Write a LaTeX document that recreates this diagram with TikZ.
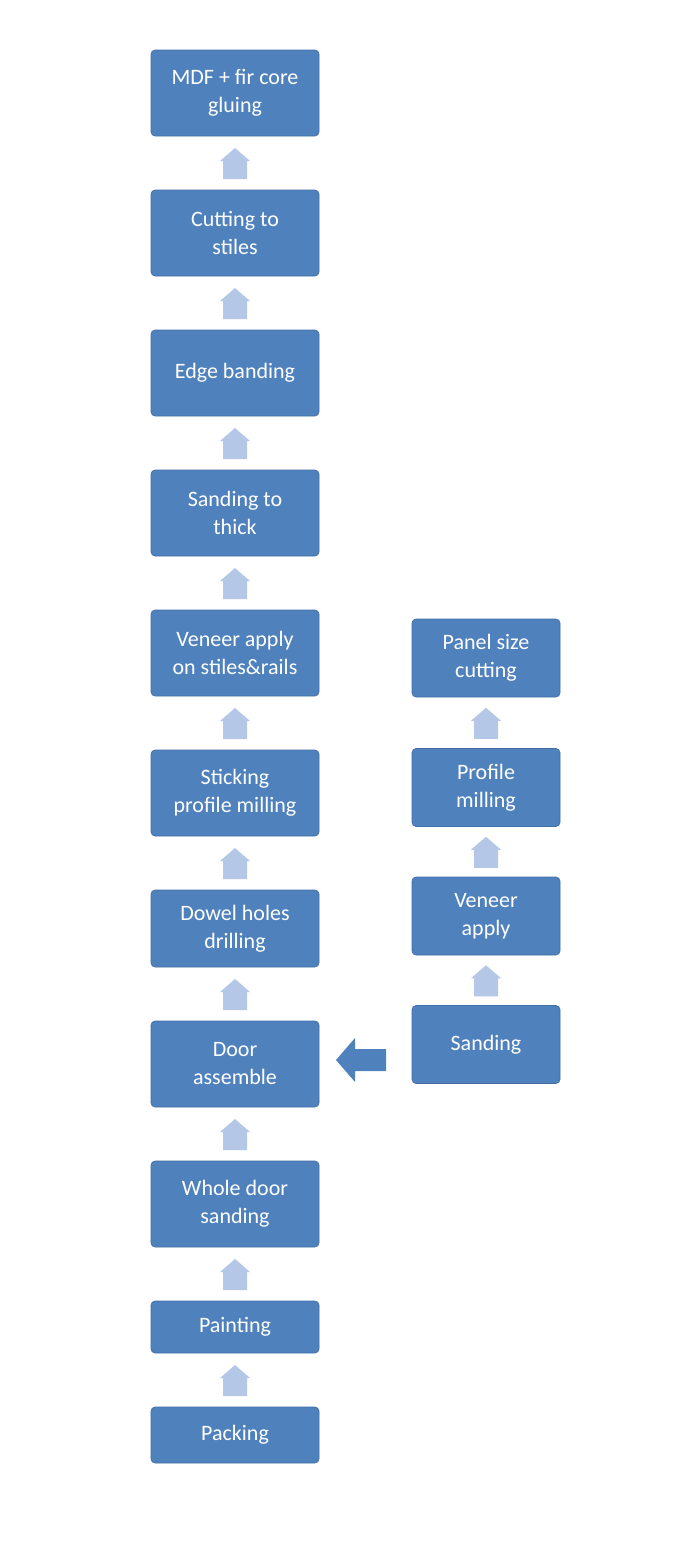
\documentclass[tikz,border=0pt]{standalone}
\usepackage{fontspec}
\setmainfont{Carlito}
\definecolor{boxblue}{HTML}{4F81BD}
\definecolor{arrblue}{HTML}{B4C7E7}
\begin{document}
\begin{tikzpicture}[x=1pt,y=-1pt,
  box/.style={fill=boxblue,draw=boxblue!85!black,line width=0.6pt,rounded corners=4pt,text=white,align=center,font=\fontsize{22}{28}\selectfont,inner sep=0pt},
  lbox/.style={box,minimum width=168pt},
  rbox/.style={box,minimum width=148pt,minimum height=78pt}]
\useasboundingbox (0,0) rectangle (700,1547);
\fill[white] (0,0) rectangle (700,1547);
\newcommand{\lb}[4]{\node[lbox,minimum height=#3pt] (#1) at (235,#2) {#4};}
\lb{a}{93}{86}{MDF + fir core\\gluing}
\lb{b}{233}{86}{Cutting to\\stiles}
\lb{c}{373}{86}{Edge banding}
\lb{d}{513}{86}{Sanding to\\thick}
\lb{e}{653}{86}{Veneer apply\\on stiles\&rails}
\lb{f}{793}{86}{Sticking\\profile milling}
\lb{g}{928.5}{77}{Dowel holes\\drilling}
\lb{h}{1064}{86}{Door\\assemble}
\lb{i}{1204}{86}{Whole door\\sanding}
\lb{j}{1327}{52}{Painting}
\lb{k}{1435}{56}{Packing}
\node[rbox] (p) at (486,658) {Panel size\\cutting};
\node[rbox] (q) at (486,787.5) {Profile\\milling};
\node[rbox] (r) at (486,916) {Veneer\\apply};
\node[rbox] (s) at (486,1044.5) {Sanding};
\newcommand{\dar}[3]{\path (#1.south) -- coordinate[pos=0.5] (m#1) (#2.north);
  \fill[#3] ([xshift=-12pt,yshift=-16pt]m#1) -- ([xshift=12pt,yshift=-16pt]m#1) -- ([xshift=12pt,yshift=2pt]m#1)
  -- ([xshift=15pt,yshift=2pt]m#1) -- ([yshift=15pt]m#1) -- ([xshift=-15pt,yshift=2pt]m#1) -- ([xshift=-12pt,yshift=2pt]m#1) -- cycle;}
\dar{a}{b}{arrblue}\dar{b}{c}{arrblue}\dar{c}{d}{arrblue}\dar{d}{e}{arrblue}
\dar{e}{f}{arrblue}\dar{f}{g}{arrblue}\dar{g}{h}{arrblue}\dar{h}{i}{arrblue}
\dar{i}{j}{arrblue}\dar{j}{k}{arrblue}
\dar{p}{q}{arrblue}\dar{q}{r}{arrblue}\dar{r}{s}{arrblue}
\coordinate (lt) at (336,1060);
\fill[boxblue] (386,1049) -- (355,1049) -- (355,1038) -- (lt) -- (355,1082) -- (355,1071) -- (386,1071) -- cycle;
\end{tikzpicture}
\end{document}
